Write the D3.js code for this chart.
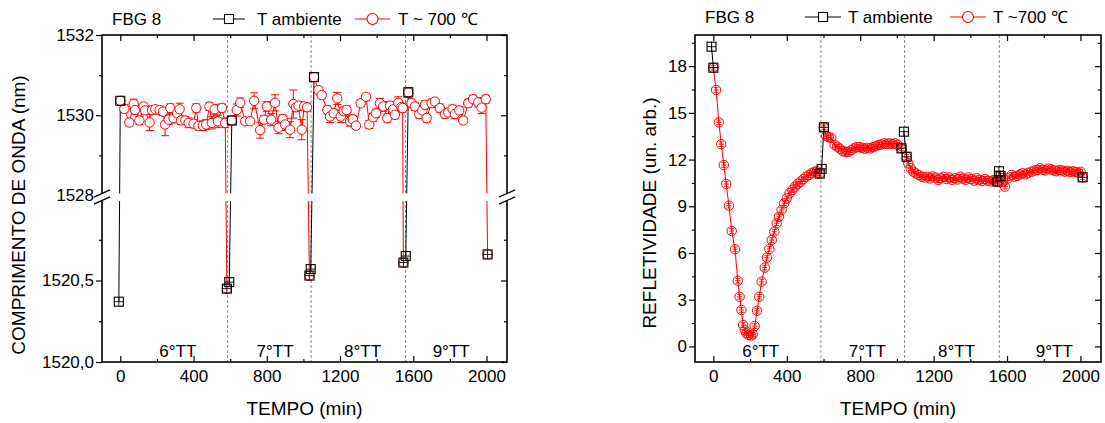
<!DOCTYPE html>
<html><head><meta charset="utf-8">
<script src="https://cdn.jsdelivr.net/npm/d3@7"></script>
<style>
body{margin:0;background:#fff;}
svg text{font-family:"Liberation Sans", Arial, Helvetica, sans-serif;fill:#000;}
</style></head><body>
<svg id="c" width="1105" height="423"></svg>
<script>
// ---------------- DATA ----------------
const xMajorTicks = [0, 400, 800, 1200, 1600, 2000];
const xMinorTicks = [200, 600, 1000, 1400, 1800];
const treatmentLabels = ["6°TT", "7°TT", "8°TT", "9°TT"];
const boundaryTimes = [586, 1042, 1558];

// Left chart: wavelength (nm)
const wlMajorTicks = [1520, 1520.5, 1528, 1530, 1532];
const wlTickLabels = ["1520,0", "1520,5", "1528", "1530", "1532"];
const wlMinorTicks = [1520.25, 1520.75, 1529, 1531];
const wlLabelTimes = [314, 845, 1323, 1807];

const wlAmbStartT = [-8, 595, 1040, 1559];
const wlAmbStartV = [1520.37, 1520.49, 1520.57, 1520.65];
const wlAmbEndT = [582, 1033, 1546, 2006];
const wlAmbEndV = [1520.45, 1520.53, 1520.61, 1520.66];

const wlT1 = [0,22,49,73,80,104,127,135,160,173,191,215,233,245,264,273,291,310,324,331,355,373,400,415,427,451,469,487,500,515,533,555,573];
const wlV1 = [1530.36,1530.16,1529.82,1530.28,1530.13,1529.87,1530.22,1530.12,1529.82,1530.13,1530.15,1530.13,1530.09,1529.77,1529.89,1530.18,1529.93,1530.05,1530.15,1529.87,1529.87,1529.81,1529.79,1530.18,1529.73,1529.74,1529.77,1530.22,1529.81,1530.15,1529.85,1530.18,1529.81];
const wlE1 = [0.05,0.1,0.08,0.12,0.1,0.1,0.08,0.1,0.2,0.1,0.08,0.1,0.1,0.28,0.12,0.1,0.12,0.1,0.15,0.1,0.1,0.12,0.1,0.1,0.1,0.12,0.12,0.1,0.15,0.12,0.15,0.1,0.12];

const wlT2 = [609,636,655,682,709,731,764,785,800,824,845,864,887,900,927,945,960,973,991,1004,1020];
const wlV2 = [1529.87,1530.13,1530.31,1529.85,1529.85,1530.36,1529.63,1529.89,1530.22,1529.89,1530.31,1529.69,1529.91,1529.77,1529.64,1530.28,1530.2,1530.24,1529.64,1530.22,1530.2];
const wlE2 = [0.1,0.15,0.12,0.08,0.08,0.2,0.2,0.1,0.12,0.15,0.2,0.15,0.1,0.15,0.2,0.35,0.1,0.1,0.25,0.1,0.1];

const wlT3 = [1058,1082,1100,1131,1145,1165,1185,1204,1220,1236,1255,1270,1287,1313,1342,1360,1380,1396,1418,1436,1458,1473,1490,1500,1518,1535,1542];
const wlV3 = [1530.95,1530.63,1530.5,1530.13,1529.97,1530.05,1530.42,1529.97,1530.1,1530.13,1529.85,1529.9,1529.74,1530.3,1530.46,1529.77,1529.95,1530.05,1530.3,1530.22,1529.93,1530.24,1530.15,1530.01,1530.31,1530.2,1530.18];
const wlE3 = [0.05,0.08,0.08,0.1,0.15,0.1,0.15,0.15,0.1,0.1,0.12,0.1,0.08,0.08,0.08,0.1,0.1,0.1,0.12,0.12,0.1,0.1,0.1,0.1,0.15,0.1,0.1];

const wlT4 = [1573,1590,1609,1633,1650,1664,1673,1700,1718,1745,1773,1791,1815,1827,1851,1873,1900,1927,1955,1973,1996];
const wlV4 = [1530.57,1530.3,1530.22,1530.03,1530.12,1530.26,1529.93,1530.3,1530.34,1530.18,1530.03,1530.07,1530.15,1530.03,1530.12,1529.87,1530.3,1530.4,1530.32,1530.19,1530.4];
const wlE4 = [0.12,0.1,0.1,0.1,0.1,0.1,0.1,0.1,0.08,0.1,0.1,0.1,0.1,0.12,0.1,0.08,0.1,0.1,0.12,0.15,0.1];

// Right chart: reflectivity (arb. units)
const rfMajorTicks = [0, 3, 6, 9, 12, 15, 18];
const rfMinorTicks = [1.5, 4.5, 7.5, 10.5, 13.5, 16.5, 19.5];
const rfLabelTimes = [258, 839, 1325, 1858];
const rfErr = 0.15;
const rfTimeErr = 14;

const rfAmbStartT = [-10, 590, 1038, 1556];
const rfAmbStartV = [19.25, 11.4, 13.79, 11.25];
const rfAmbEndT = [580, 1025, 1548, 2012];
const rfAmbEndV = [11.1, 12.72, 10.58, 10.86];

const rfT1 = [0,15,30,43,57,70,85,100,118,133,143,153,162,171,180,192,205,215,225,238,250,263,280,292,305,318,332,345,358,372,386,400,415,430,445,460,475,490,505,520,535,550,565];
const rfV1 = [17.9,16.47,14.39,12.99,11.65,10.43,9.04,7.41,6.24,4.22,3.19,2.34,1.37,1.05,0.84,0.73,0.70,0.77,1.31,2.29,3.19,4.16,5.06,5.70,6.26,6.83,7.37,7.91,8.33,8.76,9.19,9.51,9.83,10.05,10.26,10.45,10.58,10.75,10.9,11.0,11.12,11.22,11.25];

const rfT2 = [602,615,628,642,660,675,690,705,720,735,750,765,780,795,810,825,840,855,870,885,900,915,930,945,960,975,990,1005];
const rfV2 = [14.07,13.5,13.43,13.4,12.95,12.83,12.7,12.55,12.5,12.5,12.6,12.72,12.79,12.8,12.76,12.7,12.75,12.72,12.8,12.85,12.94,12.97,13.04,13.0,13.04,13.0,13.04,12.95];

const rfT3 = [1053,1062,1075,1090,1105,1120,1135,1150,1165,1180,1195,1210,1225,1240,1255,1270,1285,1300,1315,1330,1345,1360,1375,1390,1405,1420,1435,1450,1465,1480,1495,1510,1525,1540];
const rfV3 = [12.18,11.76,11.44,11.22,11.1,11.0,10.9,10.85,10.9,10.79,10.92,10.85,10.69,10.8,10.9,10.75,10.85,10.7,10.8,10.72,10.9,10.78,10.7,10.85,10.75,10.65,10.8,10.7,10.62,10.75,10.65,10.6,10.68,10.62];

const rfT4 = [1565,1578,1589,1605,1625,1640,1655,1670,1685,1700,1715,1734,1750,1765,1780,1795,1810,1825,1840,1855,1870,1885,1900,1916,1930,1945,1960,1975,1990,2001];
const rfV4 = [10.95,10.6,10.26,10.8,11.01,10.9,10.95,11.05,11.12,11.05,11.15,11.22,11.3,11.33,11.44,11.35,11.3,11.42,11.37,11.3,11.25,11.33,11.3,11.22,11.28,11.2,11.25,11.2,11.15,11.22];

// ---------------- DRAWING ----------------
const svg = d3.select("#c");
const RED = "#ff0000";
const FS = 17;

const PL = {x0:102, x1:507, y0:35, y1:362};
const PR = {x0:695, x1:1101, y0:35, y1:362};
const xL = d3.scaleLinear().domain([-100, 2112]).range([PL.x0, PL.x1]);
const yL = d3.scaleLinear().domain([1520, 1521, 1528, 1532]).range([362, 199, 195.5, 35]);
const xR = d3.scaleLinear().domain([-100, 2112]).range([PR.x0, PR.x1]);
const yR = d3.scaleLinear().domain([-1, 20]).range([PR.y1, PR.y0]);

function styleAxis(sel) {
  sel.select(".domain").remove();
  sel.selectAll("line").attr("stroke", "#000").attr("stroke-width", 1.2);
  sel.selectAll("text").attr("font-size", FS).attr("fill", "#000")
     .attr("font-family", '"Liberation Sans", Arial, sans-serif');
}

function drawAxes(g, P, x, y, yMaj, yMin, yFmt) {
  g.append("g").attr("transform", `translate(0,${P.y1})`)
    .call(d3.axisBottom(x).tickValues(xMajorTicks).tickSize(-6).tickPadding(8).tickFormat(d3.format("d"))).call(styleAxis);
  g.append("g").attr("transform", `translate(0,${P.y1})`)
    .call(d3.axisBottom(x).tickValues(xMinorTicks).tickSize(-3).tickFormat("")).call(styleAxis);
  g.append("g").attr("transform", `translate(0,${P.y0})`)
    .call(d3.axisTop(x).tickValues(xMajorTicks).tickSize(-6).tickFormat("")).call(styleAxis);
  g.append("g").attr("transform", `translate(0,${P.y0})`)
    .call(d3.axisTop(x).tickValues(xMinorTicks).tickSize(-3).tickFormat("")).call(styleAxis);
  g.append("g").attr("transform", `translate(${P.x0},0)`)
    .call(d3.axisLeft(y).tickValues(yMaj).tickSize(6).tickPadding(2).tickFormat(yFmt)).call(styleAxis);
  g.append("g").attr("transform", `translate(${P.x0},0)`)
    .call(d3.axisLeft(y).tickValues(yMin).tickSize(3).tickFormat("")).call(styleAxis);
  g.append("g").attr("transform", `translate(${P.x1},0)`)
    .call(d3.axisRight(y).tickValues(yMaj).tickSize(-6).tickFormat("")).call(styleAxis);
  g.append("g").attr("transform", `translate(${P.x1},0)`)
    .call(d3.axisRight(y).tickValues(yMin).tickSize(-3).tickFormat("")).call(styleAxis);
  g.append("rect").attr("x", P.x0).attr("y", P.y0).attr("width", P.x1 - P.x0).attr("height", P.y1 - P.y0)
    .attr("fill", "none").attr("stroke", "#000").attr("stroke-width", 1.6);
}

function drawBoundaries(g, P, x) {
  g.selectAll(null).data(boundaryTimes).enter().append("line")
    .attr("x1", d => x(d)).attr("x2", d => x(d)).attr("y1", P.y0).attr("y2", P.y1)
    .attr("stroke", "#8a8a8a").attr("stroke-width", 1).attr("stroke-dasharray", "3,2");
}

function drawTTLabels(g, P, x, times) {
  g.selectAll(null).data(times).enter().append("text")
    .attr("x", d => x(d)).attr("y", P.y1 - 5).attr("text-anchor", "middle")
    .attr("font-size", FS).text((d, i) => treatmentLabels[i]);
}

function squareMark(g, cx, cy, inner) {
  g.append("rect").attr("x", cx - 4.5).attr("y", cy - 4.5).attr("width", 9).attr("height", 9)
    .attr("fill", "none").attr("stroke", "#000").attr("stroke-width", 1.1);
  if (inner) {
    g.append("line").attr("x1", cx - 4.5).attr("x2", cx + 4.5).attr("y1", cy).attr("y2", cy).attr("stroke", "#000").attr("stroke-width", 0.9);
    g.append("line").attr("x1", cx).attr("x2", cx).attr("y1", cy - 4.5).attr("y2", cy + 4.5).attr("stroke", "#000").attr("stroke-width", 0.9);
  }
}

function drawTitles(g, P, yTitle, ytx, yty) {
  g.append("text").attr("x", (P.x0 + P.x1) / 2).attr("y", 415).attr("text-anchor", "middle")
    .attr("font-size", 19).text("TEMPO (min)");
  g.append("text").attr("transform", `translate(${ytx},${yty}) rotate(-90)`).attr("text-anchor", "middle")
    .attr("font-size", 19).text(yTitle);
}

function drawLegend(g, fx, base, sq, tx1, rl, tx2, redLabel) {
  const my = base - 6;
  g.append("text").attr("x", fx).attr("y", base).attr("font-size", FS).text("FBG 8");
  g.append("line").attr("x1", sq[0]).attr("x2", sq[1]).attr("y1", my).attr("y2", my).attr("stroke", "#000").attr("stroke-width", 1);
  const c1 = (sq[0] + sq[1]) / 2;
  g.append("rect").attr("x", c1 - 4.5).attr("y", my - 4.5).attr("width", 9).attr("height", 9).attr("fill", "#fff").attr("stroke", "#000").attr("stroke-width", 1.1);
  g.append("text").attr("x", tx1).attr("y", base).attr("font-size", FS).text("T ambiente");
  g.append("line").attr("x1", rl[0]).attr("x2", rl[1]).attr("y1", my).attr("y2", my).attr("stroke", RED).attr("stroke-width", 1);
  const c2 = (rl[0] + rl[1]) / 2;
  g.append("circle").attr("cx", c2).attr("cy", my).attr("r", 5.5).attr("fill", "#fff").attr("stroke", RED).attr("stroke-width", 1.1);
  g.append("text").attr("x", tx2).attr("y", base).attr("font-size", FS).text(redLabel);
}

// ---------- LEFT CHART ----------
const gL = svg.append("g");
const wlSets = [[wlT1, wlV1, wlE1], [wlT2, wlV2, wlE2], [wlT3, wlV3, wlE3], [wlT4, wlV4, wlE4]];
drawBoundaries(gL, PL, xL);
const line = (x, y) => d3.line().x(d => x(d[0])).y(d => y(d[1]));

wlSets.forEach(([T, V, E], i) => {
  const hot = T.map((t, j) => [t, V[j], E[j]]);
  gL.append("path").datum([[wlAmbStartT[i], wlAmbStartV[i]], hot[0]]).attr("d", line(xL, yL))
    .attr("fill", "none").attr("stroke", "#000").attr("stroke-width", 1);
  gL.append("path").datum(hot.concat([[wlAmbEndT[i], wlAmbEndV[i]]])).attr("d", line(xL, yL))
    .attr("fill", "none").attr("stroke", RED).attr("stroke-width", 1);
});
// axis break gap on data
gL.append("rect").attr("x", PL.x0 + 1).attr("y", 193.5).attr("width", PL.x1 - PL.x0 - 2).attr("height", 7.5).attr("fill", "#fff");

wlSets.forEach(([T, V, E], i) => {
  const hot = T.map((t, j) => [t, V[j], E[j]]);
  const eb = gL.append("g").attr("stroke", RED).attr("stroke-width", 1);
  hot.forEach(d => {
    const cx = xL(d[0]), ya = yL(d[1] - d[2]), yb = yL(d[1] + d[2]);
    eb.append("line").attr("x1", cx).attr("x2", cx).attr("y1", ya).attr("y2", yb);
    eb.append("line").attr("x1", cx - 4).attr("x2", cx + 4).attr("y1", ya).attr("y2", ya);
    eb.append("line").attr("x1", cx - 4).attr("x2", cx + 4).attr("y1", yb).attr("y2", yb);
  });
  gL.append("g").selectAll("circle").data(hot).enter().append("circle")
    .attr("cx", d => xL(d[0])).attr("cy", d => yL(d[1])).attr("r", 4.7)
    .attr("fill", "#fff").attr("stroke", RED).attr("stroke-width", 1);
  gL.append("circle").attr("cx", xL(wlAmbEndT[i])).attr("cy", yL(wlAmbEndV[i])).attr("r", 4.7)
    .attr("fill", "#fff").attr("stroke", RED).attr("stroke-width", 1);
  squareMark(gL, xL(wlAmbEndT[i]), yL(wlAmbEndV[i]), true);
  squareMark(gL, xL(wlAmbStartT[i]), yL(wlAmbStartV[i]), true);
  squareMark(gL, xL(hot[0][0]), yL(hot[0][1]), false);
});
drawTTLabels(gL, PL, xL, wlLabelTimes);
drawAxes(gL, PL, xL, yL, wlMajorTicks, wlMinorTicks, (d, i) => wlTickLabels[wlMajorTicks.indexOf(d)]);
// break marks
[PL.x0, PL.x1].forEach(ax => {
  gL.append("polygon").attr("points", `${ax-8},${197.1} ${ax+8},${189.9} ${ax+8},${196.9} ${ax-8},${204.1}`)
    .attr("fill", "#fff");
  gL.append("line").attr("x1", ax - 8).attr("y1", 197.1).attr("x2", ax + 8).attr("y2", 189.9).attr("stroke", "#000").attr("stroke-width", 1.2);
  gL.append("line").attr("x1", ax - 8).attr("y1", 204.1).attr("x2", ax + 8).attr("y2", 196.9).attr("stroke", "#000").attr("stroke-width", 1.2);
});
drawTitles(gL, PL, "COMPRIMENTO DE ONDA (nm)", 25, 215);
drawLegend(gL, 112, 25, [213, 245], 257, [355, 390], 398, "T ~ 700 \u2103");

// ---------- RIGHT CHART ----------
const gR = svg.append("g");
const rfSets = [[rfT1, rfV1], [rfT2, rfV2], [rfT3, rfV3], [rfT4, rfV4]];
drawBoundaries(gR, PR, xR);

function circleMark(g, cx, cy) {
  g.append("circle").attr("cx", cx).attr("cy", cy).attr("r", 4.7).attr("fill", "none").attr("stroke", RED).attr("stroke-width", 1);
  const ey = yR(0) - yR(rfErr), ex = xR(rfTimeErr) - xR(0);
  g.append("line").attr("x1", cx).attr("x2", cx).attr("y1", cy - ey).attr("y2", cy + ey).attr("stroke", RED).attr("stroke-width", 0.9);
  g.append("line").attr("x1", cx - ex).attr("x2", cx + ex).attr("y1", cy).attr("y2", cy).attr("stroke", RED).attr("stroke-width", 0.9);
  g.append("line").attr("x1", cx - 2.5).attr("x2", cx + 2.5).attr("y1", cy - ey).attr("y2", cy - ey).attr("stroke", RED).attr("stroke-width", 0.9);
  g.append("line").attr("x1", cx - 2.5).attr("x2", cx + 2.5).attr("y1", cy + ey).attr("y2", cy + ey).attr("stroke", RED).attr("stroke-width", 0.9);
}

rfSets.forEach(([T, V], i) => {
  const hot = T.map((t, j) => [t, V[j]]);
  gR.append("path").datum([[rfAmbStartT[i], rfAmbStartV[i]], hot[0]]).attr("d", line(xR, yR))
    .attr("fill", "none").attr("stroke", "#000").attr("stroke-width", 1);
  gR.append("path").datum(hot.concat([[rfAmbEndT[i], rfAmbEndV[i]]])).attr("d", line(xR, yR))
    .attr("fill", "none").attr("stroke", RED).attr("stroke-width", 1);
});
rfSets.forEach(([T, V], i) => {
  T.forEach((t, j) => circleMark(gR, xR(t), yR(V[j])));
  circleMark(gR, xR(rfAmbEndT[i]), yR(rfAmbEndV[i]));
  squareMark(gR, xR(rfAmbEndT[i]), yR(rfAmbEndV[i]), true);
  squareMark(gR, xR(rfAmbStartT[i]), yR(rfAmbStartV[i]), true);
  squareMark(gR, xR(T[0]), yR(V[0]), true);
});
drawTTLabels(gR, PR, xR, rfLabelTimes);
drawAxes(gR, PR, xR, yR, rfMajorTicks, rfMinorTicks, d3.format("d"));
drawTitles(gR, PR, "REFLETIVIDADE (un. arb.)", 656, 213);
drawLegend(gR, 705, 23, [805, 841], 848, [950, 986], 993, "T ~700 \u2103");
</script>
</body></html>
